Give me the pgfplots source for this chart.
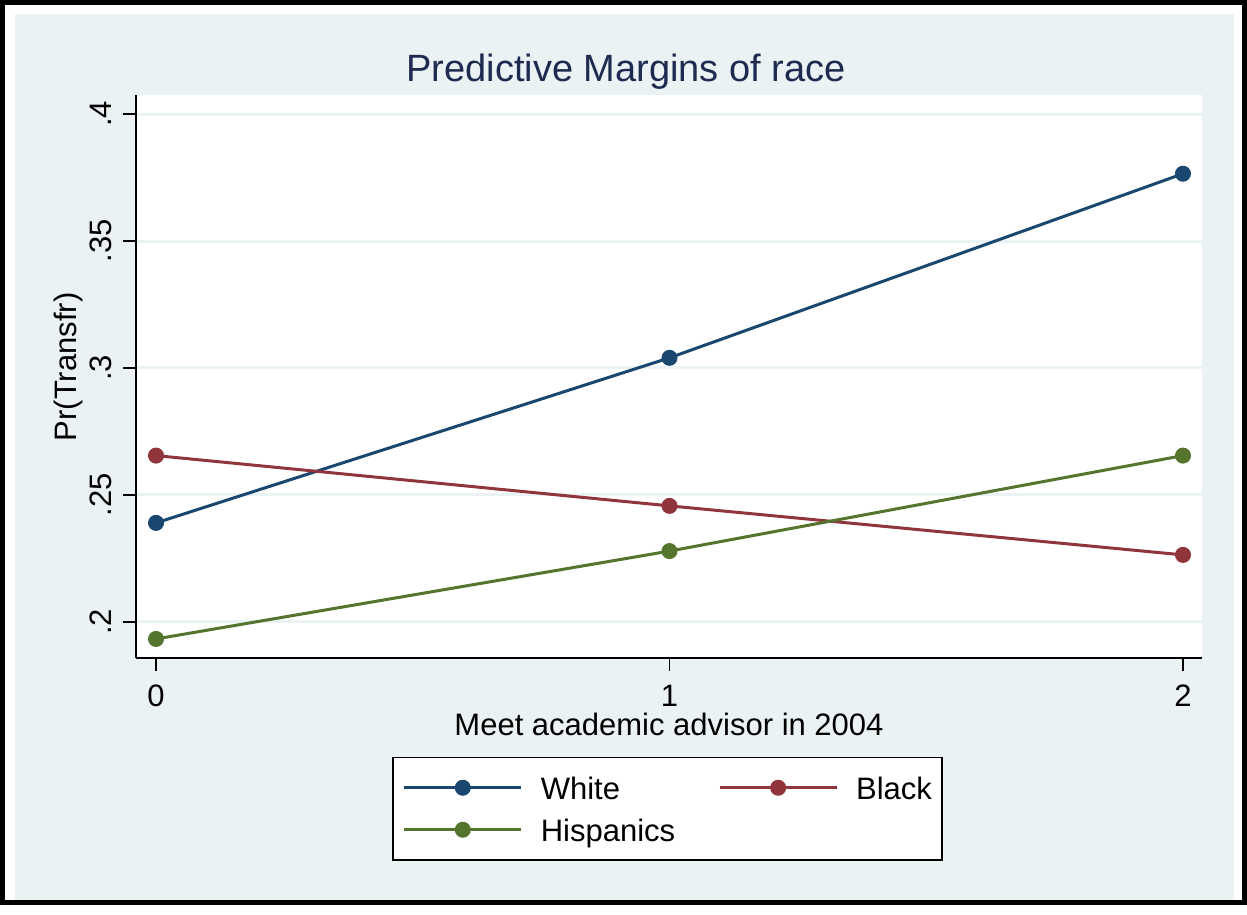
\documentclass[border=0pt]{standalone}
\usepackage{pgfplots}
\pgfplotsset{compat=1.18}
\usepackage{fontspec}
\setmainfont{Liberation Sans}

\definecolor{statanavy}{RGB}{26,71,111}
\definecolor{statamaroon}{RGB}{144,53,59}
\definecolor{stataforest}{RGB}{85,117,47}
\definecolor{statabg}{RGB}{234,242,243}
\definecolor{titleblue}{RGB}{30,42,80}

\newcommand{\lab}{\fontsize{31}{31}\selectfont}

\begin{document}
\begin{tikzpicture}[x=1pt,y=1pt]
\useasboundingbox (0,0) rectangle (1247,915);
% outer frame and graph region
\fill[white] (0,10) rectangle (1247,915);
\fill[statabg] (15,13) rectangle (1234,901);
\draw[black, line width=5pt] (2.5,12.5) rectangle (1244.5,912.5);
\node[anchor=base, text=titleblue, font=\fontsize{38}{38}\selectfont, inner sep=0pt] at (626,833) {Predictive Margins of race};

\begin{axis}[
  at={(136pt,257pt)}, anchor=south west,
  scale only axis, width=1066pt, height=563pt,
  xmin=-0.039, xmax=2.037, ymin=0.1858, ymax=0.4075,
  axis x line*=bottom, axis y line*=left,
  axis line style={line width=1.5pt, black},
  axis background/.style={fill=white},
  xtick={0,1,2}, xticklabels={0,1,2},
  ytick={0.2,0.25,0.3,0.35,0.4}, yticklabels={.2,.25,.3,.35,.4},
  tick align=outside, major tick length=13pt,
  tick style={line width=1.5pt, black},
  ymajorgrids, grid style={line width=3pt, statabg},
  xticklabel style={font=\lab, anchor=north, inner sep=0pt},
  xticklabel shift=14pt,
  yticklabel style={font=\lab, rotate=90, anchor=south, inner sep=0pt},
  yticklabel shift=11pt,
  xlabel={Meet academic advisor in 2004},
  ylabel={Pr(Transfr)},
  every axis x label/.style={at={(axis description cs:0.5,-0.1368)}, anchor=base, font=\lab, inner sep=0pt},
  every axis y label/.style={at={(axis description cs:-0.0492,0.517)}, anchor=south, rotate=90, font=\lab, inner sep=0pt},
  legend columns=2,
  legend image code/.code={\draw[mark repeat=2,mark phase=2,#1] plot coordinates {(0pt,0pt) (58.5pt,0pt) (117pt,0pt)};},
  legend style={at={(axis description cs:0.2402,-0.17584)}, anchor=north west,
    draw=black, line width=1.5pt, fill=white, font=\lab,
    inner xsep=10pt, inner ysep=18pt,
    cells={anchor=west},
    nodes={inner sep=0pt, text height=24pt, text depth=0pt},
    column sep=18pt, row sep=18pt,
    /tikz/every even column/.append style={column sep=43pt}},
  every axis plot/.append style={line width=3pt, mark=*, mark size=7.5pt},
]
\addplot[color=statanavy, mark options={solid, line width=1pt, fill=statanavy}] coordinates {(0,0.239) (1,0.304) (2,0.3765)};
\addlegendentry{White}
\addplot[color=statamaroon, mark options={solid, line width=1pt, fill=statamaroon}] coordinates {(0,0.2655) (1,0.2457) (2,0.2264)};
\addlegendentry{Black}
\addplot[color=stataforest, mark options={solid, line width=1pt, fill=stataforest}] coordinates {(0,0.1933) (1,0.2279) (2,0.2655)};
\addlegendentry{Hispanics}
\end{axis}
\end{tikzpicture}
\end{document}
